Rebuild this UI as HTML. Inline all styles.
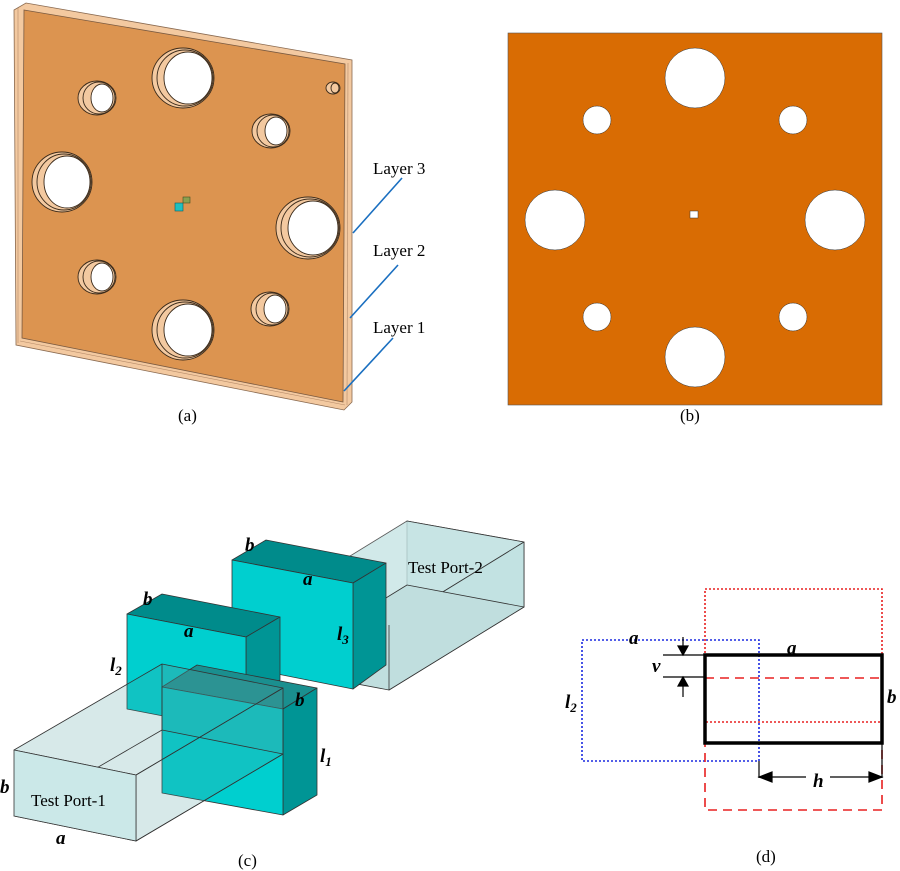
<!DOCTYPE html>
<html><head><meta charset="utf-8"><style>
html,body{margin:0;padding:0;background:#fff;}
svg{display:block;}
text{font-family:"Liberation Serif",serif;}
.l{font-size:17px;}
.bi{font-size:19px;font-weight:bold;font-style:italic;}
</style></head><body>
<svg width="900" height="871" viewBox="0 0 900 871" xmlns="http://www.w3.org/2000/svg">
<!-- (a) plate -->
<polygon points="14,10 26,3 352,60 352,402 344,410 16,345" fill="#f3c9a0" stroke="#8a6a50" stroke-width="0.8"/>
<polygon points="24,10 345,64 343,402 22,338" fill="#dc9450" stroke="#7a5a40" stroke-width="0.8"/>
<line x1="18" y1="8" x2="18" y2="343" stroke="#b58a68" stroke-width="0.6"/>
<line x1="348" y1="63" x2="347" y2="405" stroke="#b58a68" stroke-width="0.6"/>
<line x1="20" y1="341" x2="345" y2="405" stroke="#b58a68" stroke-width="0.6"/>
<!-- holes -->
<g stroke="#3a2a1a" stroke-width="0.9">
<ellipse cx="183" cy="78" rx="31" ry="30" fill="#f3c9a0"/><ellipse cx="185" cy="78" rx="28" ry="28" fill="none"/><ellipse cx="188" cy="78" rx="24" ry="26" fill="#fff"/>
<ellipse cx="62" cy="182" rx="30" ry="30" fill="#f3c9a0"/><ellipse cx="64" cy="182" rx="27" ry="28" fill="none"/><ellipse cx="67" cy="182" rx="23" ry="26" fill="#fff"/>
<ellipse cx="308" cy="228" rx="32" ry="31" fill="#f3c9a0"/><ellipse cx="310" cy="228" rx="29" ry="29" fill="none"/><ellipse cx="313" cy="228" rx="25" ry="27" fill="#fff"/>
<ellipse cx="183" cy="330" rx="31" ry="30" fill="#f3c9a0"/><ellipse cx="185" cy="330" rx="28" ry="28" fill="none"/><ellipse cx="188" cy="330" rx="24" ry="26" fill="#fff"/>
<ellipse cx="97" cy="98" rx="19" ry="17" fill="#f3c9a0"/><ellipse cx="99" cy="98" rx="16" ry="16" fill="none"/><ellipse cx="102" cy="98" rx="11" ry="14" fill="#fff"/>
<ellipse cx="271" cy="131" rx="19" ry="17" fill="#f3c9a0"/><ellipse cx="273" cy="131" rx="16" ry="16" fill="none"/><ellipse cx="276" cy="131" rx="11" ry="14" fill="#fff"/>
<ellipse cx="97" cy="277" rx="19" ry="17" fill="#f3c9a0"/><ellipse cx="99" cy="277" rx="16" ry="16" fill="none"/><ellipse cx="102" cy="277" rx="11" ry="14" fill="#fff"/>
<ellipse cx="270" cy="309" rx="19" ry="17" fill="#f3c9a0"/><ellipse cx="272" cy="309" rx="16" ry="16" fill="none"/><ellipse cx="275" cy="309" rx="11" ry="14" fill="#fff"/>
<ellipse cx="333" cy="88" rx="7" ry="6" fill="#f3c9a0"/><ellipse cx="335" cy="88" rx="4" ry="5" fill="none"/>
</g>
<rect x="175" y="203" width="8" height="8" fill="#20c0c0" stroke="#106060" stroke-width="0.6"/>
<rect x="183" y="197" width="7" height="6" fill="#8aa050" stroke="#405020" stroke-width="0.6"/>
<g stroke="#1a6fc0" stroke-width="1.6">
<line x1="402" y1="178" x2="353" y2="233"/>
<line x1="398" y1="265" x2="350" y2="318"/>
<line x1="393" y1="338" x2="344" y2="391"/>
</g>
<text class="l" x="373" y="174">Layer 3</text>
<text class="l" x="373" y="256">Layer 2</text>
<text class="l" x="373" y="333">Layer 1</text>
<text class="l" x="178" y="421">(a)</text>
<!-- (b) -->
<rect x="508" y="33" width="374" height="372" fill="#d96c03" stroke="#555" stroke-width="0.6"/>
<g fill="#fff" stroke="#333" stroke-width="0.5">
<circle cx="695" cy="78" r="30"/><circle cx="555" cy="220" r="30"/><circle cx="835" cy="220" r="30"/><circle cx="695" cy="357" r="30"/>
<circle cx="597" cy="120" r="14"/><circle cx="793" cy="120" r="14"/><circle cx="597" cy="317" r="14"/><circle cx="793" cy="317" r="14"/>
<rect x="690" y="211" width="8" height="7"/>
</g>
<text class="l" x="680" y="421">(b)</text>
<!-- (c) -->
<g stroke="#333" stroke-width="0.8" stroke-linejoin="round">
<!-- port 2 -->
<polygon points="407,521 524,542 524,607 407,585" fill="#cfe9e9"/>
<polygon points="272,604 407,521 524,542 389,625" fill="#c6e4e4" opacity="0.8"/>
<polygon points="389,625 524,542 524,607 389,690" fill="#c2e2e2"/>
<polygon points="272,668 407,585 524,607 389,690" fill="#c0dede"/>
<line x1="389" y1="625" x2="389" y2="690"/>
<!-- block 3 -->
<polygon points="232,560 266,540 386,563 353,583" fill="#008b8b"/>
<polygon points="353,583 386,563 386,665 353,689" fill="#009595"/>
<polygon points="232,560 353,583 353,689 232,665" fill="#00cfcf"/>
<!-- block 2 -->
<polygon points="127,614 162,594 280,617 246,637" fill="#008b8b"/>
<polygon points="246,637 280,617 280,680 246,700" fill="#009595"/>
<polygon points="127,614 246,637 246,732 127,709" fill="#00cfcf"/>
<!-- block 1 -->
<polygon points="162,687 197,665 317,688 283,709" fill="#1a8f8f"/>
<polygon points="283,709 317,688 317,795 283,815" fill="#009595"/>
<polygon points="162,687 283,709 283,815 162,793" fill="#00cfcf"/>
<!-- port 1 translucent -->
<polygon points="162,664 283,688 283,754 162,730" fill="#4a9a9a" opacity="0.22" stroke="none"/>
<polygon points="14,750 162,664 283,688 136,775" fill="#4a9a9a" opacity="0.22" stroke="none"/>
<polygon points="136,775 283,688 283,754 136,841" fill="#4a9a9a" opacity="0.22" stroke="none"/>
<polygon points="14,750 162,664 283,688 136,775" fill="none"/>
<polygon points="136,775 283,688 283,754 136,841" fill="none"/>
<polygon points="14,816 162,730 283,754 136,841" fill="none"/>
<line x1="162" y1="664" x2="162" y2="730"/>
<polygon points="14,750 136,775 136,841 14,816" fill="#cbe8e8"/>
</g>
<text class="bi" x="245" y="551">b</text>
<text class="bi" x="303" y="585">a</text>
<text class="bi" x="143" y="605">b</text>
<text class="bi" x="184" y="637">a</text>
<text class="bi" x="110" y="671">l<tspan font-size="13" dy="4">2</tspan></text>
<text class="bi" x="337" y="640">l<tspan font-size="13" dy="4">3</tspan></text>
<text class="bi" x="295" y="706">b</text>
<text class="bi" x="320" y="762">l<tspan font-size="13" dy="4">1</tspan></text>
<text class="bi" x="0" y="793">b</text>
<text class="bi" x="56" y="844">a</text>
<text class="l" x="31" y="806">Test Port-1</text>
<text class="l" x="408" y="573">Test Port-2</text>
<text class="l" x="238" y="866">(c)</text>
<!-- (d) -->
<g fill="none" stroke-width="1.6">
<rect x="705" y="589" width="177" height="133" stroke="#e82020" stroke-dasharray="2,2"/>
<rect x="582" y="640" width="177" height="121" stroke="#1a2ae0" stroke-dasharray="2,2"/>
<path d="M705,678 H882 M705,678 V810 H882 V678" stroke="#e82020" stroke-dasharray="9,6"/>
<rect x="705" y="655" width="177" height="88" stroke="#000" stroke-width="3.5"/>
</g>
<g stroke="#000" stroke-width="1.2" fill="#000">
<line x1="663" y1="655" x2="705" y2="655"/><line x1="663" y1="677" x2="705" y2="677"/>
<line x1="683" y1="637" x2="683" y2="648"/><polygon points="678,646 688,646 683,655"/>
<line x1="683" y1="686" x2="683" y2="697"/><polygon points="678,686 688,686 683,677"/>
<line x1="759" y1="761" x2="759" y2="778"/><line x1="882" y1="743" x2="882" y2="778"/>
<line x1="768" y1="777" x2="806" y2="777"/><line x1="830" y1="777" x2="873" y2="777"/>
<polygon points="759,777 772,772 772,782"/><polygon points="882,777 869,772 869,782"/>
</g>
<text class="bi" x="629" y="644">a</text>
<text class="bi" x="787" y="654">a</text>
<text class="bi" x="652" y="672">v</text>
<text class="bi" x="565" y="708">l<tspan font-size="13" dy="4">2</tspan></text>
<text class="bi" x="887" y="703">b</text>
<text class="bi" x="813" y="787">h</text>
<text class="l" x="756" y="862">(d)</text>
</svg>
</body></html>
